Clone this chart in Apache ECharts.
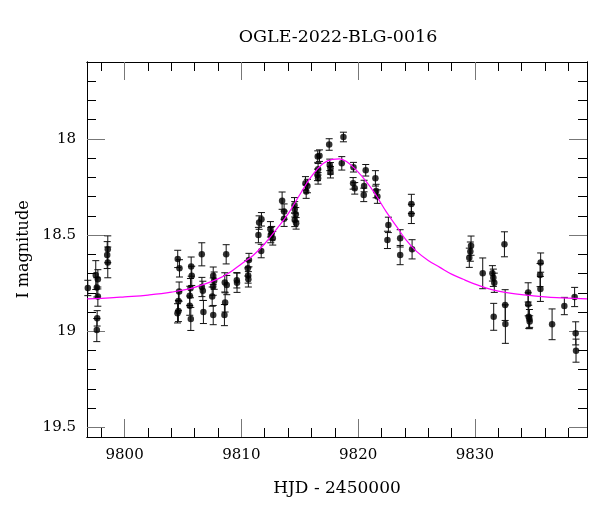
<!DOCTYPE html>
<html>
<head>
<meta charset="utf-8">
<script src="https://cdn.jsdelivr.net/npm/echarts@6/dist/echarts.min.js"></script>
<style>html,body{margin:0;padding:0;background:#fff}#c{width:600px;height:512px}</style>
</head>
<body>
<div id="c"></div>
<script>
// ---- data ----
var hjd = [9796.85,9797.53,9797.71,9797.62,9797.71,9797.65,9797.62,9798.56,9798.51,9798.56,
  9804.55,9804.70,9804.67,9804.61,9804.61,9804.53,9805.70,9805.75,9805.64,9805.58,9805.58,9805.67,
  9806.61,9806.62,9806.70,9806.75,9807.59,9807.67,9807.59,9807.50,9807.59,
  9808.70,9808.58,9808.75,9808.61,9808.55,9809.61,9809.63,
  9810.55,9810.58,9810.60,9810.65,9811.70,9811.46,9811.52,9811.72,
  9812.49,9812.52,9812.69,9812.60,9813.49,9813.66,9813.66,
  9814.55,9814.57,9814.66,9814.57,9814.69,9815.49,9815.66,9815.55,
  9816.54,9816.69,9816.57,9816.52,9816.57,9817.52,9817.57,9817.63,9817.63,
  9818.74,9818.60,9819.60,9819.57,9819.71,9820.65,9820.51,9820.48,
  9821.48,9821.54,9821.65,9822.59,9822.51,9823.60,9823.60,9824.56,9824.56,9824.62,
  9829.67,9829.61,9829.52,9830.67,9831.50,9831.58,9831.66,9831.61,
  9832.53,9832.59,9832.61,9834.56,9834.56,9834.61,9834.67,9834.69,
  9835.63,9835.58,9835.61,9836.61,9837.66,9838.54,9838.63,9838.66];
var mag = [18.775,18.708,18.730,18.772,18.820,18.933,18.994,18.574,18.604,18.642,
  18.624,18.673,18.794,18.843,18.895,18.907,18.664,18.712,18.776,18.816,18.867,18.936,
  18.600,18.770,18.790,18.900,18.711,18.737,18.768,18.820,18.916,
  18.600,18.746,18.760,18.850,18.916,18.735,18.748,
  18.673,18.710,18.730,18.630,18.583,18.500,18.435,18.418,
  18.470,18.500,18.517,18.490,18.321,18.378,18.415,
  18.345,18.366,18.392,18.421,18.439,18.231,18.245,18.274,
  18.092,18.087,18.158,18.187,18.205,18.029,18.135,18.153,18.173,
  17.990,18.127,18.147,18.231,18.257,18.163,18.245,18.291,
  18.205,18.271,18.300,18.447,18.525,18.517,18.604,18.338,18.390,18.574,
  18.555,18.586,18.618,18.699,18.699,18.722,18.748,18.925,
  18.548,18.864,18.963,18.798,18.860,18.925,18.937,18.950,
  18.643,18.708,18.780,18.964,18.869,18.822,19.011,19.101];
var magErr = [0.04,0.075,0.05,0.05,0.05,0.04,0.06,0.07,0.07,0.08,
  0.045,0.045,0.05,0.05,0.055,0.05,0.05,0.05,0.05,0.05,0.05,0.06,
  0.06,0.05,0.05,0.06,0.045,0.045,0.045,0.05,0.05,
  0.05,0.05,0.05,0.05,0.055,0.04,0.05,
  0.04,0.04,0.04,0.035,0.035,0.04,0.035,0.035,
  0.04,0.04,0.035,0.035,0.045,0.04,0.04,
  0.04,0.04,0.035,0.035,0.03,0.035,0.035,0.035,
  0.03,0.03,0.03,0.03,0.03,0.03,0.03,0.03,0.03,
  0.025,0.035,0.025,0.03,0.03,0.03,0.03,0.035,
  0.04,0.035,0.035,0.04,0.045,0.045,0.05,0.05,0.05,0.05,
  0.05,0.05,0.05,0.08,0.04,0.045,0.05,0.07,
  0.065,0.08,0.1,0.05,0.06,0.06,0.05,0.03,
  0.05,0.06,0.065,0.08,0.045,0.05,0.06,0.06];
// model curve
var modelT = [9796.8,9798,9800,9802,9804,9806,9808,9809,9810,9811,9812,9813,9814,9815,9816,9817,9817.8,9818.4,9819,9819.8,9820.7,9821.5,9822.4,9823.3,9824.1,9825,9826,9827,9828,9829,9830,9831,9832,9833,9834,9835,9836,9837,9838,9839.6];
var modelMag = [18.832,18.829,18.821,18.812,18.797,18.772,18.728,18.695,18.650,18.606,18.545,18.470,18.390,18.290,18.195,18.128,18.106,18.104,18.118,18.160,18.222,18.290,18.378,18.456,18.525,18.585,18.632,18.668,18.703,18.730,18.755,18.776,18.791,18.802,18.810,18.816,18.821,18.825,18.828,18.832];
// axes
var xMajor = [9800,9810,9820,9830];
var xMinor = [9798,9802,9804,9806,9808,9812,9814,9816,9818,9822,9824,9826,9828,9832,9834,9836,9838];
var yMajor = [18,18.5,19,19.5];
var yMinor = [17.7,17.8,17.9,18.1,18.2,18.3,18.4,18.6,18.7,18.8,18.9,19.1,19.2,19.3,19.4];
var titleText = 'OGLE-2022-BLG-0016';
var xName = 'HJD - 2450000';
var yName = 'I magnitude';

var X_MIN = 9796.78, X_MAX = 9839.6, Y_MIN = 17.6, Y_MAX = 19.55;
var FONT = 'DejaVu Serif';

function xAx(pos, vals, len, col, labels) {
  return {
    type: 'value', gridIndex: 0, position: pos, min: X_MIN, max: X_MAX,
    axisLine: {show: true, onZero: false, lineStyle: {color: '#000', width: 1}},
    axisTick: {show: true, inside: true, length: len, customValues: vals, lineStyle: {color: col, width: 1}},
    axisLabel: {show: labels, customValues: vals, margin: 11, color: '#000', fontFamily: FONT, fontSize: 15,
      formatter: function (v) { return String(v); }},
    splitLine: {show: false}
  };
}
function yAx(pos, vals, len, col, labels) {
  return {
    type: 'value', gridIndex: 0, position: pos, min: Y_MIN, max: Y_MAX, inverse: true,
    axisLine: {show: true, onZero: false, lineStyle: {color: '#000', width: 1}},
    axisTick: {show: true, inside: true, length: len, customValues: vals, lineStyle: {color: col, width: 1}},
    axisLabel: {show: labels, customValues: vals, margin: 11, color: '#000', fontFamily: FONT, fontSize: 15,
      formatter: function (v) { return String(v); }},
    splitLine: {show: false}
  };
}

var xAxes = [xAx('bottom', xMajor, 18, '#777', true), xAx('bottom', xMinor, 9, '#000', false),
             xAx('top', xMajor, 18, '#777', false), xAx('top', xMinor, 9, '#000', false)];
xAxes[0].name = xName; xAxes[0].nameLocation = 'middle'; xAxes[0].nameGap = 43;
xAxes[0].nameTextStyle = {fontFamily: FONT, fontSize: 17, color: '#000'};
var yAxes = [yAx('left', yMajor, 18, '#777', true), yAx('left', yMinor, 9, '#000', false),
             yAx('right', yMajor, 18, '#777', false), yAx('right', yMinor, 9, '#000', false)];
yAxes[0].name = yName; yAxes[0].nameLocation = 'middle'; yAxes[0].nameGap = 54;
yAxes[0].nameTextStyle = {fontFamily: FONT, fontSize: 16, color: '#000'};

var pts = hjd.map(function (t, i) { return [t, mag[i], magErr[i]]; });
var model = modelT.map(function (t, i) { return [t, modelMag[i]]; });

var chart = echarts.init(document.getElementById('c'), null, {renderer: 'canvas'});
chart.setOption({
  animation: false,
  backgroundColor: '#fff',
  title: {text: titleText, left: 333, top: 23, textAlign: 'center',
    textStyle: {fontFamily: FONT, fontSize: 17.5, fontWeight: 'normal', color: '#000'}},
  grid: {left: 87, right: 13, top: 62, bottom: 75, containLabel: false},
  xAxis: xAxes,
  yAxis: yAxes,
  series: [
    {
      type: 'custom', xAxisIndex: 0, yAxisIndex: 0, data: pts, encode: {x: 0, y: 1}, z: 2,
      renderItem: function (params, api) {
        var x = api.value(0), y = api.value(1), e = api.value(2);
        var p1 = api.coord([x, y - e]), p2 = api.coord([x, y + e]);
        var w = 3.5, st = {stroke: '#111', lineWidth: 1};
        return {type: 'group', children: [
          {type: 'line', shape: {x1: p1[0], y1: p1[1], x2: p2[0], y2: p2[1]}, style: st},
          {type: 'line', shape: {x1: p1[0] - w, y1: p1[1], x2: p1[0] + w, y2: p1[1]}, style: st},
          {type: 'line', shape: {x1: p2[0] - w, y1: p2[1], x2: p2[0] + w, y2: p2[1]}, style: st}
        ]};
      }
    },
    {
      type: 'scatter', xAxisIndex: 0, yAxisIndex: 0, data: pts, symbol: 'circle', symbolSize: 6.5, z: 3,
      itemStyle: {color: '#000'}
    },
    {
      type: 'line', xAxisIndex: 0, yAxisIndex: 0, data: model, showSymbol: false, smooth: 0.4, z: 4,
      lineStyle: {color: '#ff00ff', width: 1.2}
    }
  ]
});
</script>
</body>
</html>
